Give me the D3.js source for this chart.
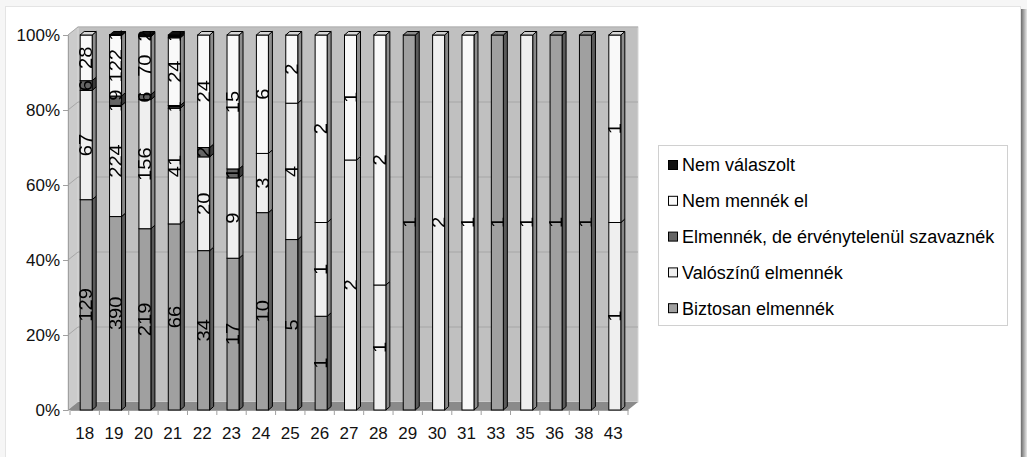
<!DOCTYPE html>
<html>
<head>
<meta charset="utf-8">
<script src="https://cdn.jsdelivr.net/npm/d3@7"></script>
<style>
  html, body { margin: 0; padding: 0; background: #ffffff; }
  svg { display: block; font-family: "Liberation Sans", Arial, sans-serif; }
</style>
</head>
<body>
<svg id="chart" width="1027" height="457"></svg>
<script>
// ---- data ----
const categories = ["18","19","20","21","22","23","24","25","26","27","28","29","30","31","33","35","36","38","43"];
const biztosan     = [129, 390, 219, 66, 34, 17, 10, 5, 1, 0, 0, 1, 0, 0, 1, 0, 1, 1, 0];
const valoszinu    = [67, 224, 156, 41, 20, 9, 3, 4, 1, 2, 1, 0, 2, 0, 0, 1, 0, 0, 1];
const ervenytelen  = [6, 19, 6, 1, 2, 1, 0, 0, 0, 0, 0, 0, 0, 0, 0, 0, 0, 0, 0];
const nemMennek    = [28, 122, 70, 24, 24, 15, 6, 2, 2, 1, 2, 0, 0, 1, 0, 0, 0, 0, 1];
const nemValaszolt = [0, 1, 2, 1, 0, 0, 0, 0, 0, 0, 0, 0, 0, 0, 0, 0, 0, 0, 0];
const seriesNames  = ["Biztosan elmennék", "Valószínű elmennék", "Elmennék, de érvénytelenül szavaznék", "Nem mennék el", "Nem válaszolt"];
const seriesColors = ["#a0a0a0", "#efefef", "#646464", "#f9f9f9", "#111111"];
const yTicks = [0, 0.2, 0.4, 0.6, 0.8, 1];

// ---- table built for d3.stack ----
const seriesArrays = [biztosan, valoszinu, ervenytelen, nemMennek, nemValaszolt];
const table = categories.map((c, i) => {
  const row = { cat: c };
  seriesNames.forEach((n, k) => row[n] = seriesArrays[k][i]);
  return row;
});
const stacked = d3.stack().keys(seriesNames).offset(d3.stackOffsetExpand)(table);

const svg = d3.select("#chart");

// ---- frame ----
svg.append("rect").attr("x", 0).attr("y", 0).attr("width", 1027).attr("height", 457).attr("fill", "#f6f6f6");
const grad = svg.append("defs").append("linearGradient").attr("id", "shadow").attr("x1", "0").attr("x2", "1");
grad.append("stop").attr("offset", "0").attr("stop-color", "#6c6c6c");
grad.append("stop").attr("offset", "1").attr("stop-color", "#e8e8e8");
svg.append("rect").attr("x", 1021).attr("y", 9).attr("width", 6).attr("height", 448).attr("fill", "url(#shadow)");
svg.append("rect").attr("x", 5.5).attr("y", 6.5).attr("width", 1015).attr("height", 470)
  .attr("fill", "#ffffff").attr("stroke", "#e4e4e4");

// ---- scales ----
const y = d3.scaleLinear().domain([0, 1]).range([410, 35]);
const x = d3.scaleBand().domain(categories).range([70, 628]).padding(0);
const depth = { dx: 10, dy: -8 };      // wall depth
const barDepth = { dx: 4, dy: -3.5 };  // bar depth
const barW = 12, barShift = 1.5;
const frontLeft = 68, frontRight = 628;

// ---- walls ----
const g = svg.append("g");
g.append("rect")
  .attr("x", frontLeft + depth.dx).attr("y", y(1) + depth.dy)
  .attr("width", frontRight - frontLeft).attr("height", y(0) - y(1))
  .attr("fill", "#c0c0c0").attr("stroke", "#d6d6d6");
g.append("path")
  .attr("d", `M${frontLeft},${y(1)} L${frontLeft + depth.dx},${y(1) + depth.dy} L${frontLeft + depth.dx},${y(0) + depth.dy} L${frontLeft},${y(0)} Z`)
  .attr("fill", "#cbcbcb").attr("stroke", "#d6d6d6");
g.append("path")
  .attr("d", `M${frontLeft},${y(0)} L${frontLeft + depth.dx},${y(0) + depth.dy} L${frontRight + depth.dx},${y(0) + depth.dy} L${frontRight},${y(0)} Z`)
  .attr("fill", "#8a8a8a");
yTicks.filter(t => t > 0).forEach(t => {
  g.append("path")
    .attr("d", `M${frontLeft},${y(t)} L${frontLeft + depth.dx},${y(t) + depth.dy} L${frontRight + depth.dx},${y(t) + depth.dy}`)
    .attr("fill", "none").attr("stroke", "#a6a6a6").attr("stroke-width", 1);
});

// ---- axes ----
const yAxis = svg.append("g").attr("transform", `translate(${frontLeft},0)`)
  .call(d3.axisLeft(y).tickValues(yTicks).tickFormat(d3.format(".0%")).tickSize(5).tickPadding(3));
yAxis.selectAll("path.domain").attr("stroke", "#a0a0a0");
yAxis.selectAll(".tick line").attr("stroke", "#a0a0a0");
yAxis.selectAll(".tick text").attr("font-size", 17).attr("fill", "#111")
  .attr("font-family", "Liberation Sans, Arial, sans-serif");

const xAxis = svg.append("g").attr("transform", `translate(0,${y(0)})`)
  .call(d3.axisBottom(x).tickSize(0).tickPadding(17));
xAxis.selectAll("path.domain").attr("stroke", "#a0a0a0");
xAxis.selectAll(".tick text").attr("font-size", 17).attr("fill", "#111")
  .attr("font-family", "Liberation Sans, Arial, sans-serif");
const bounds = categories.map(c => x(c)).concat([x(categories[categories.length - 1]) + x.bandwidth()]);
svg.append("g").selectAll("line").data(bounds).join("line")
  .attr("x1", d => d).attr("x2", d => d).attr("y1", y(0)).attr("y2", y(0) + 5)
  .attr("stroke", "#a0a0a0");

// ---- bars ----
const barsG = svg.append("g");
const labels = [];
categories.forEach((c, i) => {
  const x0 = x(c) + x.bandwidth() / 2 - barW / 2 + barShift;
  const segs = stacked.map((s, k) => ({ k, y0: s[i][0], y1: s[i][1], v: seriesArrays[k][i] })).filter(d => d.v > 0);
  segs.forEach((d, j) => {
    const col = seriesColors[d.k];
    const yt = y(d.y1), yb = y(d.y0);
    barsG.append("path")
      .attr("d", `M${x0 + barW},${yt} L${x0 + barW + barDepth.dx},${yt + barDepth.dy} L${x0 + barW + barDepth.dx},${yb + barDepth.dy} L${x0 + barW},${yb} Z`)
      .attr("fill", d3.color(col).darker(1.6)).attr("stroke", "#000").attr("stroke-width", 1).attr("stroke-linejoin", "round");
    barsG.append("rect")
      .attr("x", x0).attr("y", yt).attr("width", barW).attr("height", Math.max(0, yb - yt))
      .attr("fill", col).attr("stroke", "#000").attr("stroke-width", 1);
    if (j === segs.length - 1) {
      barsG.append("path")
        .attr("d", `M${x0},${yt} L${x0 + barDepth.dx},${yt + barDepth.dy} L${x0 + barW + barDepth.dx},${yt + barDepth.dy} L${x0 + barW},${yt} Z`)
        .attr("fill", d3.color(col).darker(0.4)).attr("stroke", "#000").attr("stroke-width", 1).attr("stroke-linejoin", "round");
    }
    labels.push({ x: x0 + barW / 2, y: (yt + yb) / 2, v: d.v });
  });
});

svg.append("g").attr("opacity", 0.995).selectAll("text").data(labels).join("text")
  .attr("transform", d => `translate(${d.x},${d.y}) rotate(-90) scale(1.12,1)`)
  .attr("text-anchor", "middle").attr("dy", "0.35em")
  .attr("font-size", 18).attr("fill", "#000")
  .text(d => d.v);

// ---- legend ----
const legend = svg.append("g");
legend.append("rect").attr("x", 658.5).attr("y", 145.5).attr("width", 349).attr("height", 180)
  .attr("fill", "#fff").attr("stroke", "#d0d0d0");
const legendOrder = [4, 3, 2, 1, 0];
legendOrder.forEach((k, j) => {
  const cy = 165 + j * 35.8;
  legend.append("rect").attr("x", 668.5).attr("y", cy - 4.5).attr("width", 9).attr("height", 9)
    .attr("fill", seriesColors[k]).attr("stroke", "#000");
  legend.append("text").attr("x", 682).attr("y", cy).attr("dy", "0.35em")
    .attr("font-size", 18).attr("fill", "#000").text(seriesNames[k]);
});
</script>
</body>
</html>
